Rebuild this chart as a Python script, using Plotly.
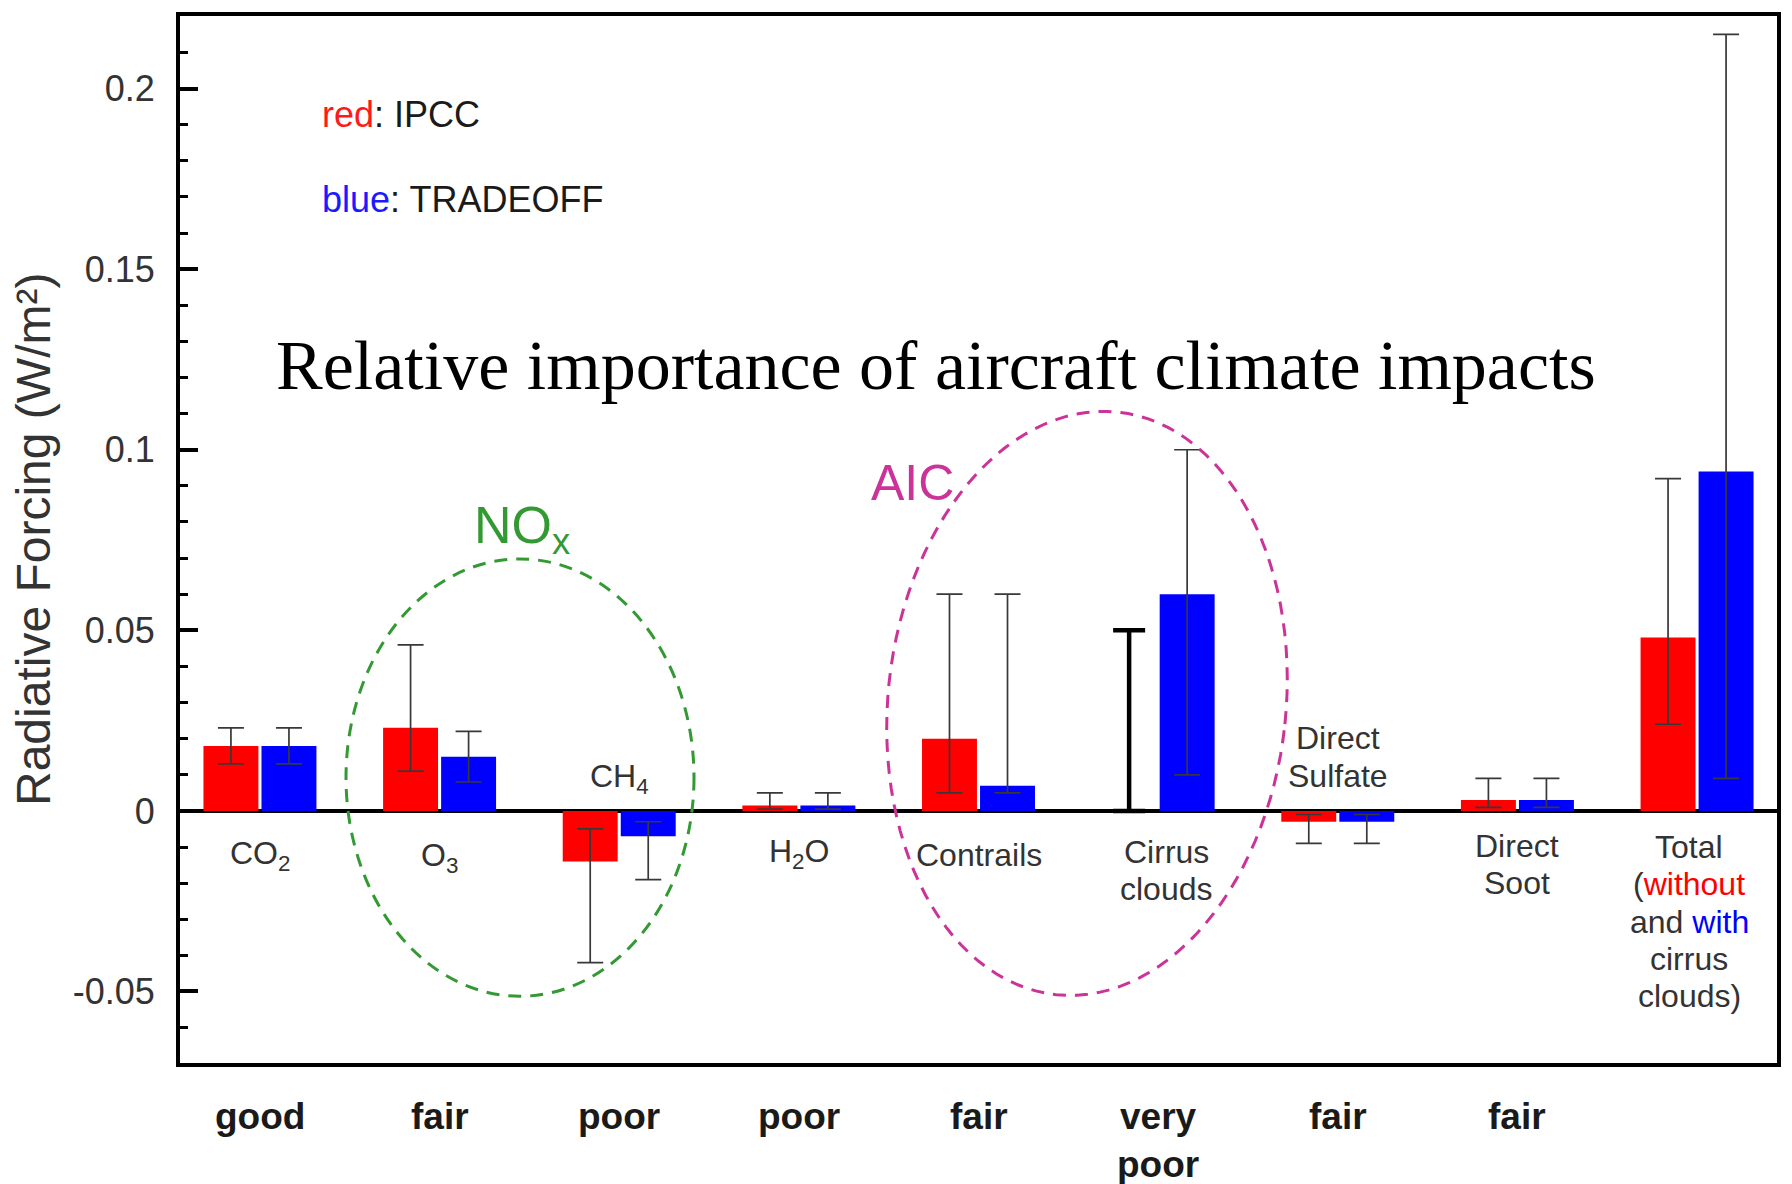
import math
import plotly.graph_objects as go

# ---------------- data ----------------
categories = ["CO2", "O3", "CH4", "H2O", "Contrails", "Cirrus", "Sulfate", "Soot", "Total"]
ratings = ["good", "fair", "poor", "poor", "fair", "very<br>poor", "fair", "fair", ""]

ipcc = [0.018, 0.023, -0.014, 0.0015, 0.020, None, -0.003, 0.003, 0.048]
ipcc_hi = [0.023, 0.046, -0.005, 0.005, 0.060, None, -0.001, 0.009, 0.092]
ipcc_lo = [0.013, 0.011, -0.042, 0.0005, 0.005, None, -0.009, 0.001, 0.024]

tradeoff = [0.018, 0.015, -0.007, 0.0015, 0.007, 0.060, -0.003, 0.003, 0.094]
tradeoff_hi = [0.023, 0.022, -0.003, 0.005, 0.060, 0.100, -0.001, 0.009, 0.215]
tradeoff_lo = [0.013, 0.008, -0.019, 0.0005, 0.005, 0.010, -0.009, 0.001, 0.009]

# IPCC cirrus: range only (no best estimate)
ipcc_cirrus_category = "Cirrus"
ipcc_cirrus_range = [0.0, 0.05]

ytick_vals = [-0.05, 0, 0.05, 0.1, 0.15, 0.2]
ytick_text = ["-0.05", "0", "0.05", "0.1", "0.15", "0.2"]

cat_labels = ["CO<sub>2</sub>", "O<sub>3</sub>", "CH<sub>4</sub>", "H<sub>2</sub>O", "Contrails",
              "Cirrus<br>clouds", "Direct<br>Sulfate", "Direct<br>Soot",
              "Total<br>(<span style='color:#ff0000'>without</span><br>and "
              "<span style='color:#0000ff'>with</span><br>cirrus<br>clouds)"]

# ---------------- layout geometry (page pixel coordinates) ----------------
PAGE_W, PAGE_H = 1792, 1184
OFF = 8                      # default body margin of the html page
W_FIG, H_FIG = PAGE_W - OFF, PAGE_H - OFF
L, R, T, B = 180, 1777, 12, 1063
YMIN, YMAX = -0.0698, 0.2201
XMIN, XMAX = -0.445, 8.445
LINE_SP = 37.5               # line spacing of multi-line category labels (px)


def pxx(X):
    return (X - L) / (R - L)


def pxy(Y):
    return (B - Y) / (B - T)


def py2v(Y):
    return YMAX - (Y - T) / (B - T) * (YMAX - YMIN)


def err(vals, hi, lo):
    plus = [None if v is None else h - v for v, h in zip(vals, hi)]
    minus = [None if v is None else v - l for v, l in zip(vals, lo)]
    return plus, minus


ip_plus, ip_minus = err(ipcc, ipcc_hi, ipcc_lo)
tr_plus, tr_minus = err(tradeoff, tradeoff_hi, tradeoff_lo)

ERR_COLOR = "#383838"

fig = go.Figure()
fig.add_trace(go.Bar(
    x=categories, y=ipcc, name="IPCC", offsetgroup="ipcc",
    marker=dict(color="#ff0000", line=dict(width=0)),
    error_y=dict(type="data", symmetric=False, array=ip_plus, arrayminus=ip_minus,
                 color=ERR_COLOR, thickness=1.7, width=13),
))
fig.add_trace(go.Bar(
    x=categories, y=tradeoff, name="TRADEOFF", offsetgroup="tradeoff",
    marker=dict(color="#0000ff", line=dict(width=0)),
    error_y=dict(type="data", symmetric=False, array=tr_plus, arrayminus=tr_minus,
                 color=ERR_COLOR, thickness=1.7, width=13),
))
fig.add_trace(go.Bar(
    x=[ipcc_cirrus_category], y=[ipcc_cirrus_range[0]], offsetgroup="ipcc",
    marker=dict(color="rgba(0,0,0,0)", line=dict(width=0)),
    error_y=dict(type="data", symmetric=False,
                 array=[ipcc_cirrus_range[1] - ipcc_cirrus_range[0]], arrayminus=[0],
                 color="#000000", thickness=4.5, width=16),
    showlegend=False,
))

SANS = "Liberation Sans, Arial, Helvetica, sans-serif"
SERIF = "Liberation Serif, Times New Roman, serif"

annotations = []
# category labels (pixel y of text-block centre); each line placed separately
label_y_px = [855, 857, 777, 853, 854, 870, 756, 864, 921]
label_xshift = [0, 0, 0, 0, 0, 8, 0, 0, -8]
for cat, lab, ypx, xs in zip(categories, cat_labels, label_y_px, label_xshift):
    lines = lab.split("<br>")
    n = len(lines)
    for i, ln in enumerate(lines):
        yc = ypx + (i - (n - 1) / 2) * LINE_SP
        annotations.append(dict(x=cat, y=py2v(yc), xref="x", yref="y", text=ln,
                                showarrow=False, xanchor="center", yanchor="middle",
                                xshift=xs, font=dict(family=SANS, size=32, color="#333333")))

# rating labels below the frame
for cat, r in zip(categories, ratings):
    if r:
        annotations.append(dict(x=cat, y=pxy(1094), xref="x", yref="paper",
                                text="<b>" + r + "</b>",
                                showarrow=False, xanchor="center", yanchor="top",
                                font=dict(family=SANS, size=37, color="#1a1a1a")))

# legend-like texts
annotations.append(dict(x=pxx(320), y=pxy(111), xref="paper", yref="paper",
                        text="<span style='color:#ff1a1a'>red</span>: IPCC",
                        showarrow=False, xanchor="left", yanchor="middle",
                        font=dict(family=SANS, size=36, color="#1a1a1a")))
annotations.append(dict(x=pxx(320), y=pxy(196), xref="paper", yref="paper",
                        text="<span style='color:#1a1aff'>blue</span>: TRADEOFF",
                        showarrow=False, xanchor="left", yanchor="middle",
                        font=dict(family=SANS, size=36, color="#1a1a1a")))

# big title
annotations.append(dict(x=pxx(936), y=pxy(363), xref="paper", yref="paper",
                        text="Relative importance of aircraft climate impacts",
                        showarrow=False, xanchor="center", yanchor="middle",
                        font=dict(family=SERIF, size=70, color="#000000")))

GREEN = "#339933"
MAGENTA = "#cc3399"
annotations.append(dict(x=pxx(472), y=pxy(527), xref="paper", yref="paper",
                        text="NO<sub>x</sub>", showarrow=False, xanchor="left", yanchor="middle",
                        font=dict(family=SANS, size=52, color=GREEN)))
annotations.append(dict(x=pxx(912), y=pxy(481), xref="paper", yref="paper",
                        text="AIC", showarrow=False, xanchor="center", yanchor="middle",
                        font=dict(family=SANS, size=50, color=MAGENTA)))

# y-axis title
annotations.append(dict(x=pxx(34), y=pxy(538), xref="paper", yref="paper",
                        text="Radiative Forcing (W/m²)", textangle=-90,
                        showarrow=False, xanchor="center", yanchor="middle",
                        font=dict(family=SANS, size=48, color="#333333")))

# ellipses
shapes = []
shapes.append(dict(type="circle", xref="paper", yref="paper",
                   x0=pxx(346), x1=pxx(694), y0=pxy(996), y1=pxy(557),
                   line=dict(color=GREEN, width=3, dash="13px,9px"), layer="above"))

cx, cy, a, b, th = 1087, 702, 199, 294, math.radians(6)
pts = []
for i in range(121):
    t = 2 * math.pi * i / 120
    X = cx + a * math.cos(t) * math.cos(th) + b * math.sin(t) * math.sin(th)
    Y = cy + a * math.cos(t) * math.sin(th) - b * math.sin(t) * math.cos(th)
    pts.append((pxx(X), pxy(Y)))
path = "M " + " L ".join(f"{x:.5f},{y:.5f}" for x, y in pts) + " Z"
shapes.append(dict(type="path", xref="paper", yref="paper", path=path,
                   line=dict(color=MAGENTA, width=3, dash="13px,9px"), layer="above"))

fig.update_layout(
    width=W_FIG, height=H_FIG,
    margin=dict(l=L - OFF, r=PAGE_W - R, t=T - OFF, b=PAGE_H - B, pad=0),
    paper_bgcolor="white", plot_bgcolor="white",
    barmode="group", bargap=0.354, bargroupgap=0.053,
    showlegend=False,
    annotations=annotations, shapes=shapes,
    xaxis=dict(type="category", categoryorder="array", categoryarray=categories,
               range=[XMIN, XMAX], showticklabels=False, ticks="",
               showgrid=False, zeroline=False,
               showline=True, linecolor="black", linewidth=4, mirror=True),
    yaxis=dict(range=[YMIN, YMAX], tickvals=ytick_vals, ticktext=ytick_text,
               ticks="inside", ticklen=18, tickwidth=3.5, tickcolor="black",
               tickfont=dict(family=SANS, size=36, color="#333333"),
               ticklabelstandoff=14,
               minor=dict(dtick=0.01, tick0=0, ticks="inside", ticklen=8, tickwidth=3,
                          tickcolor="black", showgrid=False),
               showgrid=False, zeroline=True, zerolinecolor="black", zerolinewidth=3.5,
               showline=True, linecolor="black", linewidth=4, mirror=True),
)

fig.write_html("out.html")
